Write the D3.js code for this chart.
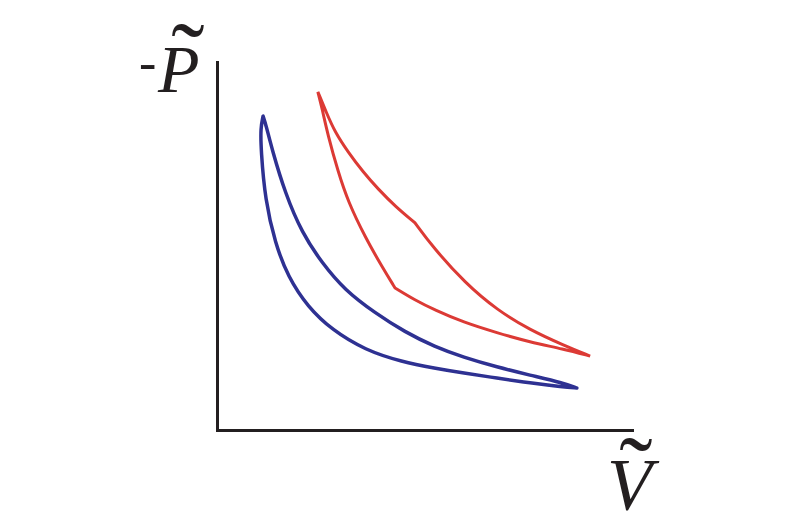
<!DOCTYPE html>
<html>
<head>
<meta charset="utf-8">
<script src="https://cdn.jsdelivr.net/npm/d3@7"></script>
<style>
  body { margin: 0; background: #fff; }
  svg { display: block; }
</style>
</head>
<body>
<div id="chart"></div>
<script>
// blue cycle: upper branch (right tip -> top tip), lower branch (top tip -> right tip)
const blueUpperV = [8.67, 8.34, 7.54, 6.75, 5.93, 5.25, 4.53, 3.81, 3.08, 2.53, 2.05, 1.64, 1.33, 1.18, 1.11];
const blueUpperP = [1.14, 1.28, 1.49, 1.71, 1.98, 2.26, 2.66, 3.18, 3.80, 4.54, 5.35, 6.44, 7.61, 8.29, 8.53];
const blueLowerV = [1.11, 1.05, 1.06, 1.16, 1.40, 1.71, 2.19, 2.77, 3.57, 4.46, 5.25, 5.93, 6.75, 7.54, 8.34, 8.67];
const blueLowerP = [8.53, 8.21, 7.61, 6.25, 5.08, 4.16, 3.34, 2.72, 2.17, 1.85, 1.68, 1.55, 1.41, 1.28, 1.17, 1.14];

// red cycle, four smooth legs meeting at corners
const redLegV = [
    [2.43, 2.63, 2.84, 3.16, 3.52, 3.88, 4.31, 4.77],
    [4.77, 5.20, 5.98, 6.75, 7.54, 8.34, 8.99],
    [8.99, 8.34, 7.54, 6.75, 5.93, 5.25, 4.77, 4.29],
    [4.29, 3.98, 3.57, 3.16, 2.92, 2.67, 2.53, 2.43]
];
const redLegP = [
    [9.19, 8.64, 8.10, 7.55, 7.01, 6.55, 6.06, 5.63],
    [5.63, 4.97, 3.99, 3.26, 2.72, 2.31, 2.01],
    [2.01, 2.20, 2.39, 2.64, 2.93, 3.26, 3.53, 3.86],
    [3.86, 4.43, 5.24, 6.20, 7.01, 8.02, 8.75, 9.19]
];

const axisLabels = ["-", "P", "V"];
const accent = "\u02DC";

const width = 800, height = 530;
const svg = d3.select("#chart").append("svg")
    .attr("width", width)
    .attr("height", height);

const x = d3.scaleLinear().domain([0, 10]).range([217, 632]);
const y = d3.scaleLinear().domain([0, 10]).range([430, 62]);

// axes without ticks
const styleDomain = g => g.select(".domain")
    .attr("stroke", "#231f20")
    .attr("stroke-width", 3)
    .attr("stroke-linecap", "square");

svg.append("g")
    .attr("transform", `translate(0,${y(0)})`)
    .call(d3.axisBottom(x).ticks(0).tickSizeOuter(0))
    .call(styleDomain);

svg.append("g")
    .attr("transform", `translate(${x(0)},0)`)
    .call(d3.axisLeft(y).ticks(0).tickSizeOuter(0))
    .call(styleDomain);

const line = d3.line()
    .x(d => x(d[0]))
    .y(d => y(d[1]))
    .curve(d3.curveBasis);

// join several legs into one path so the corners stay joined
const joinLegs = (vs, ps) => vs.map((v, i) => {
    const d = line(d3.zip(v, ps[i]));
    return i > 0 ? d.replace(/^M[^A-Za-z]*/, "") : d;
}).join("");

// blue loop
svg.append("path")
    .attr("d", joinLegs([blueUpperV, blueLowerV], [blueUpperP, blueLowerP]))
    .attr("fill", "none")
    .attr("stroke", "#2e3192")
    .attr("stroke-width", 3.5)
    .attr("stroke-linejoin", "round")
    .attr("stroke-linecap", "round");

// red loop
svg.append("path")
    .attr("d", joinLegs(redLegV, redLegP) + "Z")
    .attr("fill", "none")
    .attr("stroke", "#dc3a35")
    .attr("stroke-width", 3)
    .attr("stroke-linejoin", "miter")
    .attr("stroke-miterlimit", 10);

// axis labels
const serif = "'Liberation Serif', 'DejaVu Serif', serif";
const label = (tx, ty, size, italic, txt, anchor) => svg.append("text")
    .attr("x", tx).attr("y", ty)
    .attr("text-anchor", anchor || "start")
    .attr("font-family", serif)
    .attr("font-style", italic ? "italic" : "normal")
    .attr("font-size", size)
    .attr("fill", "#231f20")
    .text(txt);

label(139, 80, 52, false, axisLabels[0]);
label(158, 92, 68, true, axisLabels[1]);
label(188, 91, 100, false, accent, "middle");

label(607, 510, 74, true, axisLabels[2]);
label(636, 505, 100, false, accent, "middle");
</script>
</body>
</html>
